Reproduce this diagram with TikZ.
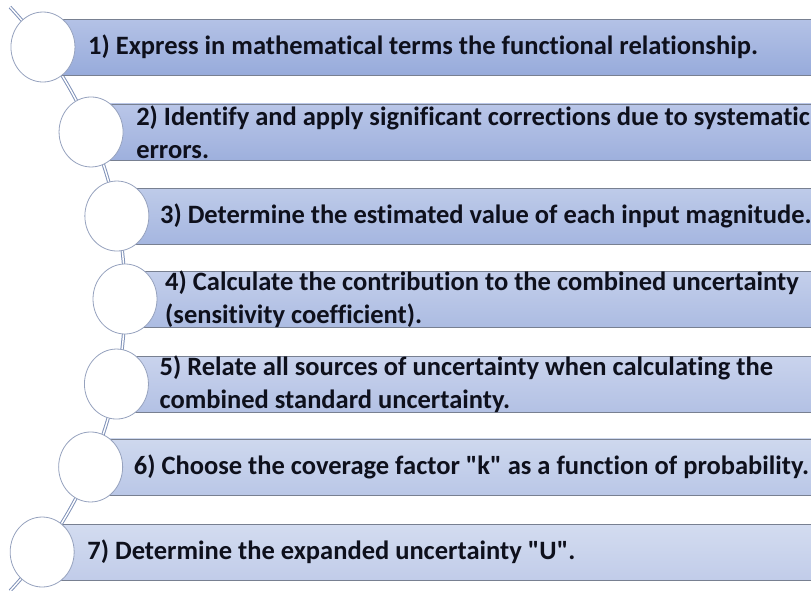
\documentclass[tikz,border=0pt]{standalone}
\usepackage{fontspec}
\setmainfont[Ligatures={NoCommon,TeXOff}]{Carlito}
\usetikzlibrary{calc,shapes.geometric}
\definecolor{spine}{RGB}{128,146,184}
\definecolor{ringc}{RGB}{150,162,190}
\definecolor{barline}{RGB}{120,128,145}
\definecolor{txt}{RGB}{14,16,28}
\begin{document}
\begin{tikzpicture}[x=1pt,y=1pt,
  ring/.style={ellipse,draw=ringc,line width=0.8pt,fill=white,minimum width=64pt,minimum height=70pt,inner sep=0pt},
  steptext/.style={anchor=west,align=left,font=\fontsize{26.5}{33}\selectfont\bfseries,text=txt,inner sep=0pt},
  spineline/.style={draw=spine,double=white,line width=1pt,double distance=1.4pt}]
\useasboundingbox (0,0) rectangle (811,590);
\clip (0,0) rectangle (811,590);
\coordinate (C) at (-303,291);
% spine arc
\draw[spineline] ([shift={(43:428)}]C) arc[start angle=43,end angle=-43,radius=428];
% steps
\foreach \i/\ang/\tr/\tg/\tb/\br/\bg/\bb in {
  1/36.07/180/194/230/151/171/219,
  2/22.97/185/198/232/158/176/221,
  3/11.18/190/203/233/165/182/224,
  4/0/196/207/235/172/188/226,
  5/-11.46/201/211/237/179/193/228,
  6/-23.11/206/216/238/186/199/231,
  7/-36.24/211/220/240/193/204/233}{
  \coordinate (c\i) at ([shift={(\ang:428)}]C);
  \definecolor{bt\i}{RGB}{\tr,\tg,\tb}
  \definecolor{bb\i}{RGB}{\br,\bg,\bb}
  \path[top color=bt\i,bottom color=bb\i] ($(c\i)+(0,28)$) rectangle ($(c\i)+(830,-28)$);
  \draw[barline,line width=0.7pt] ($(c\i)+(0,28)$) -- ($(c\i)+(830,28)$);
  \draw[barline,line width=0.7pt] ($(c\i)+(0,-28)$) -- ($(c\i)+(830,-28)$);
  \node[ring] (r\i) at (c\i) {};
}
\node[steptext] (t1) at ($(c1)+(45,0)$) {1) Express in mathematical terms the functional relationship.};
\node[steptext] (t2) at ($(c2)+(45,0)$) {2) Identify and apply significant corrections due to systematic\\errors.};
\node[steptext] (t3) at ($(c3)+(43,0)$) {3) Determine the estimated value of each input magnitude.};
\node[steptext] (t4) at ($(c4)+(40,0)$) {4) Calculate the contribution to the combined uncertainty\\(sensitivity coefficient).};
\node[steptext] (t5) at ($(c5)+(43,0)$) {5) Relate all sources of uncertainty when calculating the\\combined standard uncertainty.};
\node[steptext] (t6) at ($(c6)+(43,0)$) {6) Choose the coverage factor "k" as a function of probability.};
\node[steptext] (t7) at ($(c7)+(45,0)$) {7) Determine the expanded uncertainty "U".};
\end{tikzpicture}
\end{document}
